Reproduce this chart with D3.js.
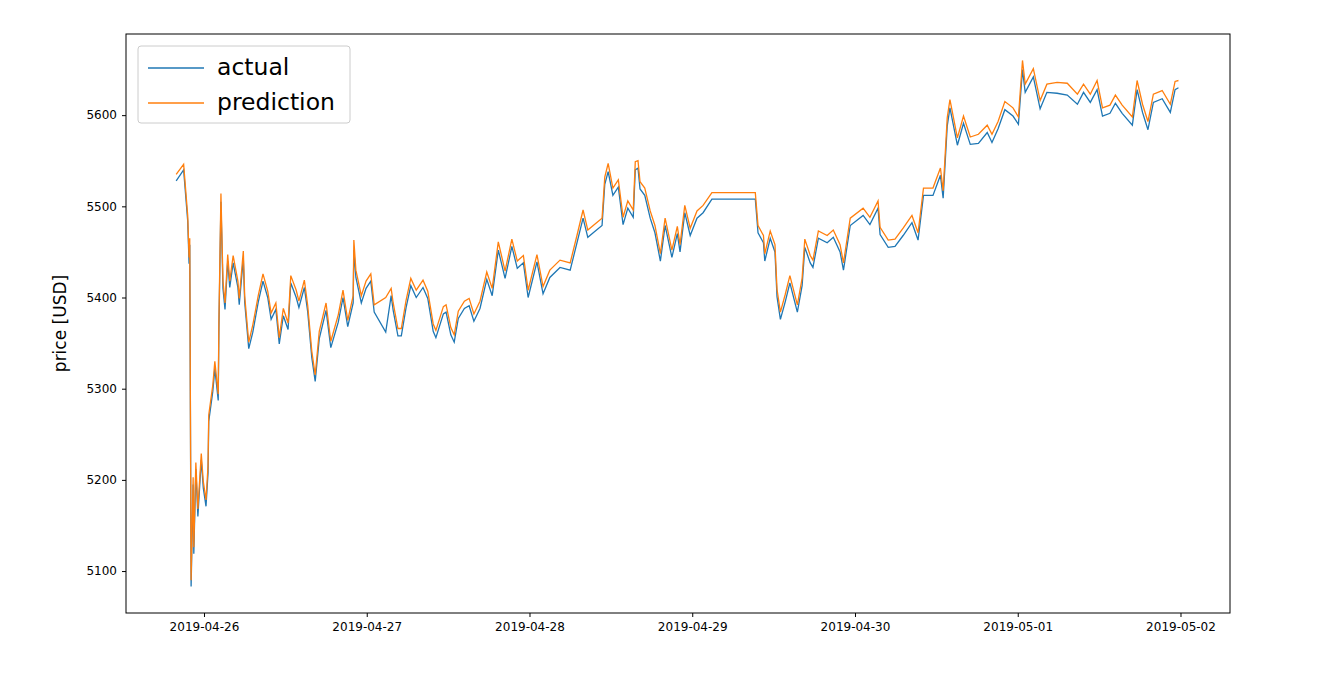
<!DOCTYPE html>
<html>
<head>
<meta charset="utf-8">
<script src="https://cdn.jsdelivr.net/npm/d3@7"></script>
<style>
  body { margin: 0; background: #fff; }
  svg text { font-family: "DejaVu Sans", sans-serif; fill: #000; }
</style>
</head>
<body>
<svg class="chart" width="1336" height="682"></svg>
<script>
// hours after 2019-04-26 00:00
var hours = [-4.1,-3.0,-2.4,-2.2,-2.1,-1.9,-1.6,-1.5,-1.2,-0.9,-0.4,-0.1,0.3,0.6,0.7,1.3,1.6,2.1,2.2,2.5,2.8,3.1,3.5,3.8,4.3,5.0,5.2,5.8,6.0,6.6,7.2,8.0,8.7,9.4,9.9,10.6,11.1,11.7,12.4,12.8,13.6,14.0,14.8,15.3,15.9,16.4,17.0,18.0,18.7,19.8,20.5,21.2,22.0,22.1,22.4,23.2,23.9,24.6,25.1,26.8,27.6,27.9,28.6,29.1,29.8,30.5,31.3,32.3,33.0,33.8,34.2,35.3,35.7,36.4,36.9,37.5,38.4,39.1,39.8,40.7,41.7,42.5,43.4,44.4,45.4,46.2,47.1,47.8,49.1,50.0,51.0,52.5,54.0,55.0,55.9,56.6,57.4,58.7,59.1,59.6,60.3,61.1,61.8,62.5,63.3,63.6,64.0,64.3,65.0,65.8,66.5,67.3,68.0,69.0,69.8,70.2,70.9,71.7,72.7,73.6,74.9,81.3,81.7,82.5,82.7,83.5,84.2,84.5,85.0,85.7,86.4,87.5,88.2,88.6,89.4,89.8,90.6,91.9,92.8,93.8,94.3,95.3,97.2,98.2,99.4,99.7,100.9,101.9,103.1,104.4,105.3,106.1,107.5,108.6,109.0,109.6,110.0,111.1,112.0,113.0,114.2,115.5,116.2,117.1,118.1,119.3,120.1,120.7,121.1,122.3,123.3,124.3,125.8,127.3,128.8,129.7,130.7,131.7,132.5,133.6,134.4,135.4,136.9,137.6,138.4,139.2,140.0,141.3,142.5,143.2,143.7];

var actual = [5528,5540,5484,5437,5458,5083,5195,5119,5212,5160,5222,5191,5171,5208,5264,5297,5322,5287,5366,5505,5410,5387,5440,5411,5438,5411,5392,5443,5395,5344,5362,5395,5418,5400,5376,5387,5349,5380,5365,5416,5400,5389,5411,5384,5334,5308,5355,5386,5345,5373,5400,5368,5394,5452,5422,5394,5410,5418,5384,5362,5402,5386,5358,5358,5389,5413,5400,5411,5399,5363,5356,5382,5384,5359,5351,5377,5388,5391,5374,5388,5420,5402,5452,5421,5456,5432,5438,5400,5439,5404,5422,5433,5430,5460,5487,5466,5471,5479,5524,5538,5512,5521,5480,5498,5488,5540,5542,5519,5512,5487,5471,5440,5479,5444,5470,5450,5493,5468,5487,5493,5508,5508,5471,5460,5440,5465,5450,5401,5376,5395,5416,5384,5413,5455,5438,5433,5465,5460,5466,5450,5430,5479,5490,5480,5498,5469,5455,5456,5468,5482,5463,5512,5512,5534,5509,5588,5608,5567,5591,5568,5569,5581,5570,5585,5606,5599,5590,5650,5625,5642,5607,5625,5624,5622,5612,5625,5614,5628,5599,5602,5613,5602,5589,5628,5603,5584,5614,5618,5603,5628,5630];

var prediction = [5535,5546,5490,5444,5465,5090,5203,5126,5219,5168,5229,5198,5178,5216,5271,5304,5330,5294,5374,5514,5418,5394,5447,5418,5446,5418,5399,5451,5402,5351,5370,5402,5426,5407,5383,5394,5356,5388,5372,5424,5408,5396,5419,5391,5341,5315,5363,5394,5352,5381,5408,5375,5402,5463,5430,5402,5418,5426,5392,5400,5410,5394,5366,5366,5397,5421,5408,5419,5407,5371,5364,5390,5392,5367,5359,5385,5396,5399,5382,5396,5428,5410,5461,5429,5464,5440,5446,5408,5447,5412,5430,5441,5438,5468,5496,5474,5479,5487,5532,5547,5520,5529,5488,5506,5496,5549,5550,5527,5520,5495,5479,5448,5487,5452,5478,5458,5501,5476,5495,5501,5515,5515,5479,5468,5448,5473,5458,5409,5384,5403,5424,5392,5421,5464,5446,5441,5473,5468,5474,5458,5438,5487,5498,5488,5506,5477,5463,5464,5476,5490,5471,5520,5520,5542,5517,5597,5617,5575,5599,5576,5579,5589,5579,5593,5615,5608,5598,5660,5634,5651,5616,5634,5636,5635,5623,5634,5623,5638,5608,5611,5622,5611,5598,5638,5612,5593,5623,5627,5612,5637,5638];

var yTicks = [5100, 5200, 5300, 5400, 5500, 5600];
var legendLabels = ['actual', 'prediction'];

var svg = d3.select('.chart');
var box = {l: 126, r: 1230, t: 34, b: 613};
var t0 = new Date(2019, 3, 26, 0, 0);
function toDate(h) { return new Date(t0.getTime() + h * 3600000); }

var xScale = d3.scaleTime()
    .domain([toDate(-11.5), toDate(151.3)])
    .range([box.l, box.r]);
var yScale = d3.scaleLinear()
    .domain([5054, 5689])
    .range([box.b, box.t]);

var xAxis = d3.axisBottom(xScale)
    .tickValues(d3.range(0, 7).map(function(i) { return toDate(i * 24); }))
    .tickFormat(d3.timeFormat('%Y-%m-%d'))
    .tickSize(4).tickPadding(5);
svg.append('g').attr('transform', 'translate(0,' + box.b + ')').call(xAxis)
    .call(function(g) { g.select('.domain').remove(); })
    .selectAll('text').style('font-size', '12px');

var yAxis = d3.axisLeft(yScale).tickValues(yTicks).tickFormat(d3.format('d'))
    .tickSize(4).tickPadding(5);
svg.append('g').attr('transform', 'translate(' + box.l + ',0)').call(yAxis)
    .call(function(g) { g.select('.domain').remove(); })
    .selectAll('text').style('font-size', '12px');

svg.append('text')
    .attr('transform', 'translate(66,' + ((box.t + box.b) / 2) + ') rotate(-90)')
    .attr('text-anchor', 'middle')
    .style('font-size', '17px')
    .text('price [USD]');

var lineA = d3.line()
    .x(function(d, i) { return xScale(toDate(hours[i])); })
    .y(function(d) { return yScale(d); });

svg.append('path').datum(actual)
    .attr('fill', 'none').attr('stroke', '#1f77b4').attr('stroke-width', 1.3)
    .attr('d', lineA);
svg.append('path').datum(prediction)
    .attr('fill', 'none').attr('stroke', '#ff7f0e').attr('stroke-width', 1.3)
    .attr('d', lineA);

svg.append('rect')
    .attr('x', box.l).attr('y', box.t)
    .attr('width', box.r - box.l).attr('height', box.b - box.t)
    .attr('fill', 'none').attr('stroke', '#000').attr('stroke-width', 1);

// legend
var legend = svg.append('g').attr('transform', 'translate(138,46)');
legend.append('rect')
    .attr('width', 212).attr('height', 77).attr('rx', 3)
    .attr('fill', '#fff').attr('fill-opacity', 0.8)
    .attr('stroke', '#ccc');
var colors = ['#1f77b4', '#ff7f0e'];
legendLabels.forEach(function(lbl, i) {
    var y = 22 + i * 35;
    legend.append('line')
        .attr('x1', 10).attr('x2', 66).attr('y1', y).attr('y2', y)
        .attr('stroke', colors[i]).attr('stroke-width', 1.5);
    legend.append('text')
        .attr('x', 79).attr('y', y + 7)
        .style('font-size', '23.5px')
        .text(lbl);
});
</script>
</body>
</html>
